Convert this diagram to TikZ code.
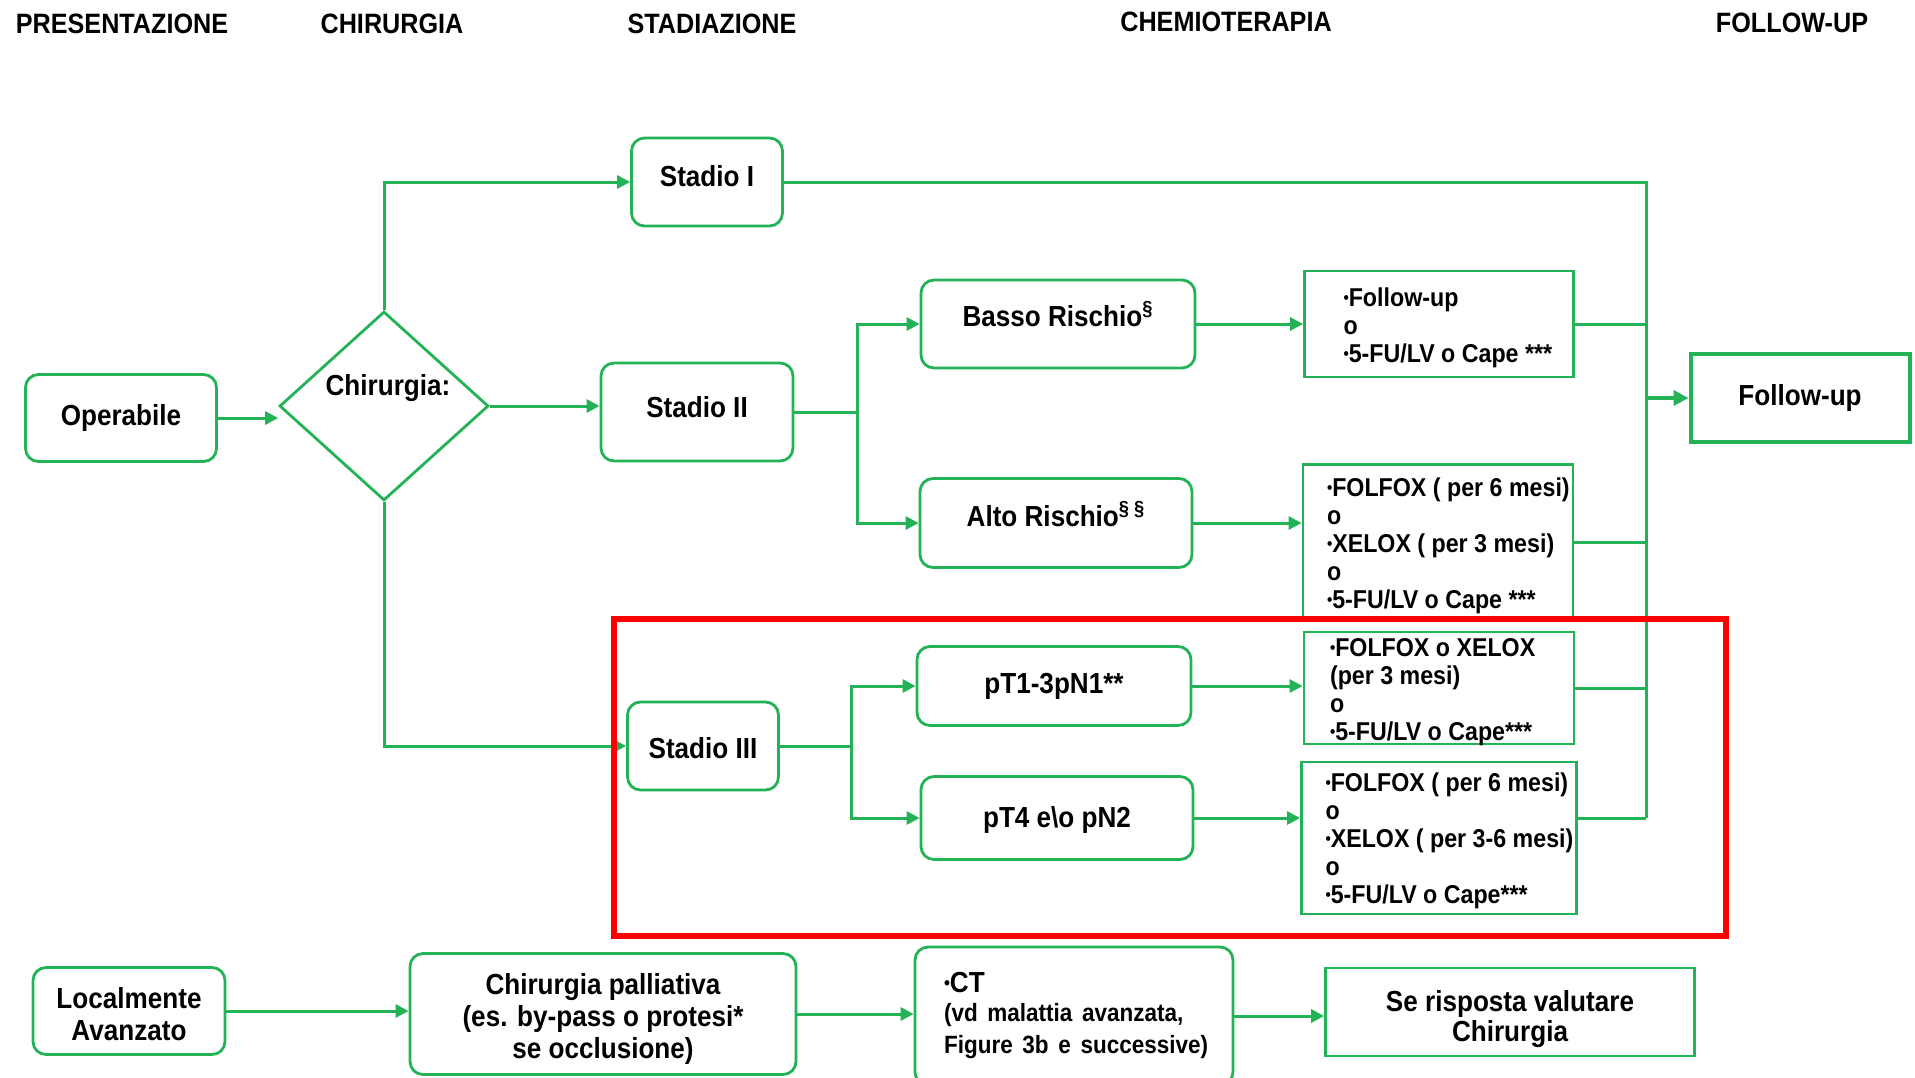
\documentclass[tikz,border=0pt]{standalone}
\usepackage{fontspec}
\setmainfont{Liberation Sans}[FakeStretch=0.9]
\usetikzlibrary{shapes.geometric,arrows.meta}
\definecolor{flowgreen}{RGB}{35,178,85}
\definecolor{hlred}{RGB}{255,0,0}
% one line of a left-aligned box, allowed to run past the text width
\newcommand\tline[1]{\makebox[0pt][l]{#1}}
% move node text up (positive) or down (negative) without changing its box
\newcommand\nudge[2]{\raisebox{#1}[\height][\depth]{#2}}
% left-aligned stack of lines starting at the left edge of a box of given width
\newcommand\leftstack[2]{\makebox[#1][l]{\begin{tabular}[c]{@{}l@{}}#2\end{tabular}}}
% centred stack of lines
\newcommand\midstack[1]{\begin{tabular}[c]{@{}c@{}}#1\end{tabular}}
% small list bullet
\newcommand\bul{\raisebox{0.12em}{\scalebox{0.65}{•}}}

\begin{document}
\begin{tikzpicture}[x=0.5pt,y=-0.5pt,
  head/.style={font=\bfseries\fontsize{14}{16}\selectfont, inner sep=0},
  rbox/.style={draw=flowgreen, line width=1.4pt, rounded corners=6.5pt, fill=white,
    inner sep=0, font=\bfseries\fontsize{14.5}{16}\selectfont},
  sbox/.style={draw=flowgreen, line width=1.4pt, fill=white, inner sep=0,
    font=\bfseries\fontsize{12.9}{14}\selectfont},
  conn/.style={draw=flowgreen, line width=1.5pt},
  arr/.style={conn, -{Triangle[length=6.5pt,width=6.5pt]}},
  bigarr/.style={draw=flowgreen, line width=2.2pt, -{Triangle[length=7.5pt,width=7.5pt]}},
]
\useasboundingbox (0,0) rectangle (1915,1077);

% column headings
\node[head] (hPres) at (122,24) {PRESENTAZIONE};
\node[head] (hChir) at (392,24) {CHIRURGIA};
\node[head] (hStad) at (712,24) {STADIAZIONE};
\node[head] (hChemo) at (1226,22) {CHEMIOTERAPIA};
\node[head] (hFup) at (1792,23) {FOLLOW-UP};

% presentation and surgery
\node[rbox, minimum width=95.5pt, minimum height=43.5pt] (op) at (121,418) {Operabile};
\node[diamond, draw=flowgreen, line width=1.4pt, aspect=1.1, inner sep=0,
      minimum width=104.5pt, minimum height=94.5pt] (dia) at (384,406) {};
\node[font=\bfseries\fontsize{14.5}{16}\selectfont, inner sep=0] (dialbl) at (388,388) {Chirurgia:};

% staging
\node[rbox, minimum width=75.5pt, minimum height=44pt] (s1) at (707,182) {\nudge{3pt}{Stadio I}};
\node[rbox, minimum width=96pt, minimum height=49pt] (s2) at (697,412) {\nudge{2.5pt}{Stadio II}};
\node[rbox, minimum width=75.5pt, minimum height=44pt] (s3) at (703,746) {\nudge{-1pt}{Stadio III}};

% risk classes
\node[rbox, minimum width=137pt, minimum height=44pt] (basso) at (1058,324)
  {\nudge{5pt}{Basso Rischio\textsuperscript{§}}};
\node[rbox, minimum width=136pt, minimum height=44.5pt] (alto) at (1056,523)
  {\nudge{4.5pt}{Alto Rischio\textsuperscript{§ §}}};
\node[rbox, minimum width=137pt, minimum height=39.5pt] (pt1) at (1054,686) {pT1-3pN1**};
\node[rbox, minimum width=136pt, minimum height=41.5pt] (pt4) at (1057,818) {\nudge{-1pt}{pT4 e\textbackslash o pN2}};

% chemotherapy options
\node[sbox, minimum width=134.5pt, minimum height=53pt] (box1) at (1439,324)
  {\nudge{-2.5pt}{\leftstack{95.5pt}{\bul Follow-up\\o\\\bul 5-FU/LV o Cape ***}}};
\node[sbox, minimum width=135pt, minimum height=77.5pt] (box2) at (1438,542)
  {\nudge{-2.5pt}{\leftstack{111pt}{\bul FOLFOX ( per 6 mesi)\\o\\\bul XELOX ( per 3 mesi)\\o\\\bul 5-FU/LV o Cape ***}}};
\node[sbox, minimum width=135pt, minimum height=55.5pt] (box3) at (1439,688)
  {\nudge{-2.5pt}{\leftstack{109pt}{\bul FOLFOX o XELOX\\(per 3 mesi)\\o\\\bul 5-FU/LV o Cape***}}};
\node[sbox, minimum width=137.5pt, minimum height=76pt] (box4) at (1439,838)
  {\nudge{-2pt}{\leftstack{113.5pt}{\bul FOLFOX ( per 6 mesi)\\o\\\bul XELOX ( per 3-6 mesi)\\o\\\bul 5-FU/LV o Cape***}}};

% follow-up
\node[draw=flowgreen, line width=2pt, fill=white, inner sep=0, minimum width=109.5pt, minimum height=44pt,
      font=\bfseries\fontsize{14.5}{16}\selectfont] (fu) at (1800,398) {Follow-up};

% locally advanced path
\node[rbox, minimum width=96pt, minimum height=43.5pt] (loc) at (129,1011)
  {\nudge{-3.5pt}{\midstack{Localmente\\Avanzato}}};
\node[rbox, minimum width=193pt, minimum height=60.5pt] (cp) at (603,1014)
  {\nudge{-3pt}{\midstack{Chirurgia palliativa\\(es. by-pass o protesi*\\se occlusione)}}};
\node[rbox, align=left, minimum width=159pt, minimum height=69pt, text width=130pt] (ct) at (1074,1016)
  {\tline{\bul CT}\\[1pt]{\fontsize{12.5}{13.5}\selectfont\tline{(vd malattia avanzata,}\\\tline{Figure 3b e successive)}}};
\node[draw=flowgreen, line width=1.4pt, fill=white, inner sep=0, minimum width=184.5pt, minimum height=44pt,
      font=\bfseries\fontsize{14.5}{15}\selectfont] (se) at (1510,1012)
  {\nudge{-4pt}{\midstack{Se risposta valutare\\Chirurgia}}};

% junction points
\coordinate (b2) at (857,412);
\coordinate (b3) at (851,746);
\coordinate (busTop) at (1646,182);
\coordinate (busBot) at (1646,818);

% surgery to staging
\draw[arr] (op.east) -- (op.east -| dia.west);
\draw[arr] (dia.north) |- (s1.west);
\draw[arr] (dia.east) -- (dia.east -| s2.west);
\draw[arr] (dia.south) |- (s3.west);

% staging to risk classes
\draw[conn] (s2.east) -- (b2);
\draw[arr] (b2) |- (basso.west);
\draw[arr] (b2) |- (alto.west);
\draw[conn] (s3.east) -- (b3);
\draw[arr] (b3) |- (pt1.west);
\draw[arr] (b3) |- (pt4.west);

% risk classes to treatments
\draw[arr] (basso.east) -- (basso.east -| box1.west);
\draw[arr] (alto.east) -- (alto.east -| box2.west);
\draw[arr] (pt1.east) -- (pt1.east -| box3.west);
\draw[arr] (pt4.east) -- (pt4.east -| box4.west);

% collecting bus to follow-up
\draw[conn] (s1.east) -- (busTop) -- (busBot);
\draw[conn] (box1.east) -- (box1.east -| busTop);
\draw[conn] (box2.east) -- (box2.east -| busTop);
\draw[conn] (box3.east) -- (box3.east -| busTop);
\draw[conn] (pt4 -| box4.east) -- (busBot);
\draw[bigarr] (fu.west -| busTop) -- (fu.west);

% locally advanced path
\draw[arr] (loc.east) -- (loc.east -| cp.west);
\draw[arr] (cp.east) -- (cp.east -| ct.west);
\draw[arr] (ct.east) -- (ct.east -| se.west);

% highlight frame around stage III
\node[draw=hlred, line width=3pt, inner sep=0, minimum width=555.7pt, minimum height=158.2pt] (hl) at (1170,777.4) {};
\end{tikzpicture}
\end{document}
